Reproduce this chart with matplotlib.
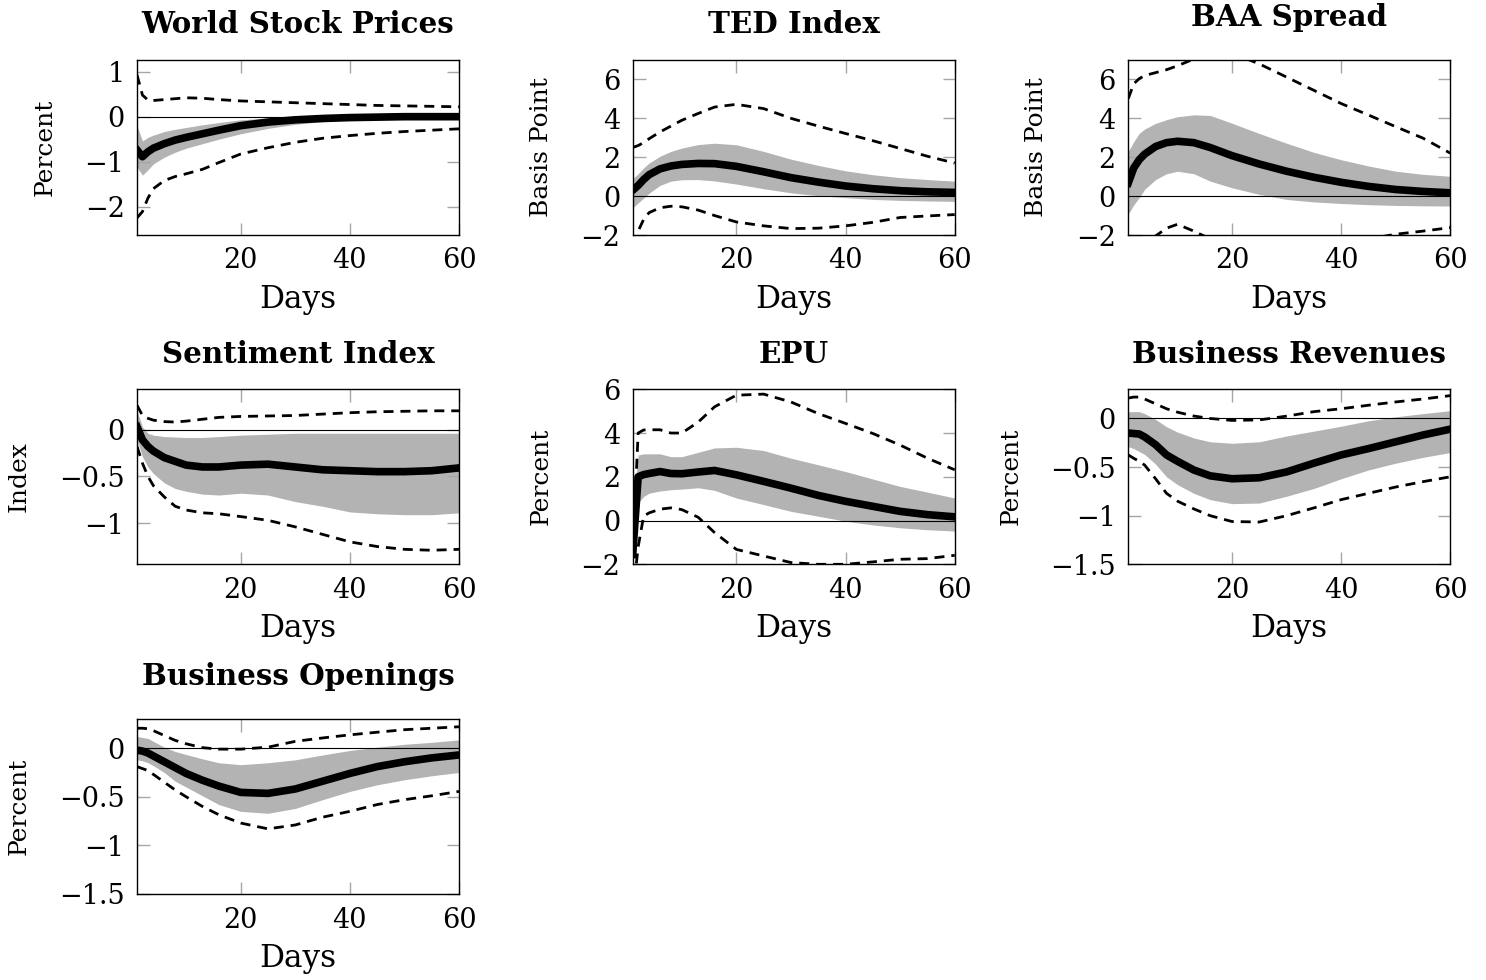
import matplotlib
matplotlib.use('Agg')
import matplotlib.pyplot as plt
import matplotlib.transforms as mtransforms
from matplotlib.ticker import FixedLocator, FixedFormatter

plt.rcParams['font.family'] = ['DejaVu Serif']

# =====================================================================
# Impulse responses (days 1..60)
# =====================================================================
DAYS = [1, 2, 3, 4, 6, 8, 10, 13, 16, 20, 25, 30, 35, 40, 45, 50, 55, 60]

# World Stock Prices (percent)
world_med     = [-0.74, -0.89, -0.78, -0.70, -0.60, -0.52, -0.46, -0.38, -0.30, -0.20, -0.12, -0.07, -0.04, -0.02, -0.01, 0.0, 0.0, 0.0]
world_band_hi = [-0.20, -0.54, -0.46, -0.41, -0.33, -0.28, -0.24, -0.18, -0.13, -0.07, -0.03, -0.01, 0.01, 0.02, 0.03, 0.03, 0.03, 0.03]
world_band_lo = [-1.12, -1.30, -1.18, -1.05, -0.90, -0.79, -0.70, -0.60, -0.50, -0.38, -0.26, -0.17, -0.11, -0.07, -0.05, -0.04, -0.03, -0.03]
world_dash_hi = [0.93, 0.48, 0.37, 0.36, 0.38, 0.40, 0.42, 0.41, 0.38, 0.35, 0.33, 0.31, 0.29, 0.27, 0.25, 0.24, 0.23, 0.22]
world_dash_lo = [-2.25, -2.11, -1.81, -1.60, -1.42, -1.33, -1.27, -1.17, -1.02, -0.83, -0.69, -0.57, -0.48, -0.42, -0.37, -0.33, -0.30, -0.27]

# TED Index (basis points)
ted_med     = [0.30, 0.55, 0.85, 1.10, 1.40, 1.55, 1.63, 1.68, 1.67, 1.53, 1.25, 0.95, 0.72, 0.52, 0.38, 0.28, 0.22, 0.19]
ted_band_hi = [0.90, 1.15, 1.45, 1.70, 2.05, 2.30, 2.47, 2.65, 2.72, 2.64, 2.30, 1.90, 1.58, 1.30, 1.10, 0.95, 0.85, 0.77]
ted_band_lo = [-0.60, -0.35, -0.10, 0.15, 0.55, 0.77, 0.84, 0.85, 0.78, 0.62, 0.38, 0.17, 0.02, -0.08, -0.17, -0.22, -0.25, -0.27]
ted_dash_hi = [2.50, 2.60, 2.75, 2.95, 3.30, 3.60, 3.90, 4.25, 4.58, 4.72, 4.50, 4.00, 3.60, 3.22, 2.85, 2.45, 2.05, 1.70]
ted_dash_lo = [-2.50, -1.80, -1.20, -0.85, -0.60, -0.52, -0.55, -0.72, -1.00, -1.33, -1.53, -1.67, -1.65, -1.53, -1.35, -1.10, -1.02, -0.95]

# BAA Spread (basis points)
baa_med     = [0.68, 1.45, 1.87, 2.16, 2.55, 2.75, 2.82, 2.75, 2.50, 2.08, 1.65, 1.28, 0.97, 0.71, 0.50, 0.34, 0.24, 0.17]
baa_band_hi = [2.30, 2.80, 3.23, 3.45, 3.74, 3.93, 4.08, 4.18, 4.15, 3.75, 3.22, 2.72, 2.25, 1.87, 1.55, 1.28, 1.12, 1.02]
baa_band_lo = [-0.93, -0.45, -0.08, 0.35, 0.85, 1.15, 1.28, 1.15, 0.77, 0.43, 0.09, -0.17, -0.30, -0.38, -0.44, -0.48, -0.50, -0.51]
baa_dash_hi = [5.02, 5.78, 6.04, 6.20, 6.35, 6.50, 6.70, 7.05, 7.30, 7.35, 6.80, 6.12, 5.44, 4.76, 4.17, 3.57, 2.98, 2.21]
baa_dash_lo = [-3.20, -2.80, -2.50, -2.30, -2.05, -1.65, -1.45, -1.80, -2.20, -2.50, -2.75, -2.80, -2.70, -2.50, -2.20, -1.96, -1.80, -1.62]

# Sentiment Index (index)
sent_med     = [0.03, -0.11, -0.18, -0.23, -0.30, -0.34, -0.38, -0.40, -0.40, -0.38, -0.37, -0.40, -0.43, -0.44, -0.45, -0.45, -0.44, -0.41]
sent_band_hi = [0.20, 0.03, -0.04, -0.06, -0.075, -0.08, -0.085, -0.085, -0.075, -0.06, -0.05, -0.04, -0.04, -0.04, -0.04, -0.04, -0.04, -0.04]
sent_band_lo = [-0.11, -0.29, -0.40, -0.47, -0.57, -0.63, -0.66, -0.69, -0.70, -0.68, -0.70, -0.77, -0.82, -0.88, -0.90, -0.91, -0.91, -0.89]
sent_dash_hi = [0.26, 0.15, 0.12, 0.10, 0.085, 0.08, 0.09, 0.11, 0.13, 0.14, 0.145, 0.15, 0.165, 0.18, 0.19, 0.195, 0.20, 0.20]
sent_dash_lo = [-0.18, -0.36, -0.50, -0.60, -0.72, -0.82, -0.86, -0.89, -0.90, -0.93, -0.97, -1.04, -1.12, -1.20, -1.25, -1.28, -1.29, -1.28]

# EPU (percent)
epu_med     = [-1.55, 2.00, 2.10, 2.15, 2.24, 2.15, 2.14, 2.22, 2.29, 2.09, 1.79, 1.48, 1.15, 0.88, 0.65, 0.42, 0.27, 0.17]
epu_band_hi = [0.30, 3.00, 3.05, 3.05, 3.05, 2.92, 2.92, 3.12, 3.32, 3.35, 3.20, 2.85, 2.55, 2.24, 1.90, 1.56, 1.30, 1.03]
epu_band_lo = [-2.20, 0.80, 1.10, 1.25, 1.35, 1.41, 1.44, 1.50, 1.38, 1.03, 0.73, 0.42, 0.20, -0.03, -0.20, -0.33, -0.42, -0.48]
epu_dash_hi = [-1.50, 4.00, 4.14, 4.15, 4.15, 4.00, 4.00, 4.50, 5.20, 5.73, 5.78, 5.42, 4.89, 4.44, 3.98, 3.45, 2.85, 2.32]
epu_dash_lo = [-3.50, -1.20, 0.20, 0.35, 0.52, 0.58, 0.50, 0.15, -0.55, -1.32, -1.62, -1.92, -2.00, -2.00, -1.89, -1.77, -1.74, -1.59]

# Business Revenues (percent)
rev_med     = [-0.15, -0.155, -0.16, -0.19, -0.27, -0.375, -0.44, -0.53, -0.59, -0.62, -0.61, -0.55, -0.46, -0.375, -0.31, -0.24, -0.17, -0.11]
rev_band_hi = [0.07, 0.07, 0.07, 0.05, -0.01, -0.085, -0.14, -0.20, -0.24, -0.255, -0.24, -0.18, -0.13, -0.08, -0.024, 0.017, 0.05, 0.08]
rev_band_lo = [-0.29, -0.31, -0.34, -0.37, -0.47, -0.60, -0.68, -0.77, -0.835, -0.876, -0.87, -0.80, -0.72, -0.62, -0.53, -0.46, -0.40, -0.35]
rev_dash_hi = [0.21, 0.22, 0.22, 0.20, 0.15, 0.10, 0.065, 0.025, 0.0, -0.02, -0.015, 0.024, 0.07, 0.10, 0.136, 0.17, 0.20, 0.235]
rev_dash_lo = [-0.375, -0.41, -0.44, -0.48, -0.62, -0.77, -0.85, -0.93, -1.00, -1.06, -1.065, -1.00, -0.92, -0.835, -0.77, -0.705, -0.65, -0.60]

# Business Openings (percent)
open_med     = [-0.02, -0.03, -0.05, -0.08, -0.14, -0.20, -0.26, -0.33, -0.39, -0.455, -0.465, -0.42, -0.34, -0.26, -0.19, -0.14, -0.10, -0.07]
open_band_hi = [0.12, 0.11, 0.10, 0.07, 0.01, -0.034, -0.065, -0.11, -0.15, -0.17, -0.15, -0.12, -0.07, -0.024, 0.01, 0.04, 0.06, 0.085]
open_band_lo = [-0.12, -0.13, -0.15, -0.18, -0.25, -0.34, -0.40, -0.49, -0.58, -0.65, -0.67, -0.62, -0.53, -0.445, -0.377, -0.325, -0.284, -0.25]
open_dash_hi = [0.205, 0.205, 0.20, 0.18, 0.13, 0.08, 0.045, 0.005, -0.01, -0.01, 0.01, 0.07, 0.105, 0.137, 0.164, 0.19, 0.205, 0.22]
open_dash_lo = [-0.19, -0.21, -0.23, -0.27, -0.35, -0.43, -0.50, -0.60, -0.685, -0.77, -0.83, -0.79, -0.71, -0.65, -0.58, -0.53, -0.49, -0.445]

X_TICKS = [20, 40, 60]

# title, ylabel, ylim, yticks, series, (col, row)
panels = [
    ("World Stock Prices", "Percent", (-2.63, 1.26), [-2, -1, 0, 1],
     (world_med, world_band_lo, world_band_hi, world_dash_lo, world_dash_hi), (0, 0)),
    ("TED Index", "Basis Point", (-2, 7), [-2, 0, 2, 4, 6],
     (ted_med, ted_band_lo, ted_band_hi, ted_dash_lo, ted_dash_hi), (1, 0)),
    ("BAA Spread", "Basis Point", (-2, 7), [-2, 0, 2, 4, 6],
     (baa_med, baa_band_lo, baa_band_hi, baa_dash_lo, baa_dash_hi), (2, 0)),
    ("Sentiment Index", "Index", (-1.44, 0.43), [-1, -0.5, 0],
     (sent_med, sent_band_lo, sent_band_hi, sent_dash_lo, sent_dash_hi), (0, 1)),
    ("EPU", "Percent", (-2, 6), [-2, 0, 2, 4, 6],
     (epu_med, epu_band_lo, epu_band_hi, epu_dash_lo, epu_dash_hi), (1, 1)),
    ("Business Revenues", "Percent", (-1.5, 0.3), [-1.5, -1, -0.5, 0],
     (rev_med, rev_band_lo, rev_band_hi, rev_dash_lo, rev_dash_hi), (2, 1)),
    ("Business Openings", "Percent", (-1.5, 0.3), [-1.5, -1, -0.5, 0],
     (open_med, open_band_lo, open_band_hi, open_dash_lo, open_dash_hi), (0, 2)),
]

# =====================================================================
# Layout (pixel geometry of the 1486x980 canvas)
# =====================================================================
W, H = 1486, 980
fig = plt.figure(figsize=(W / 100, H / 100), dpi=100)

col_left = [137, 632.7, 1128.3]
row_top = [60, 389.3, 719]
ax_w, ax_h = 322, 175

BAND_COLOR = '#b3b3b3'
TICK_COLOR = '#a6a6a6'


def fmt(v):
    s = f"{v:g}"
    return s.replace('-', '\u2212')


for title, ylab, ylim, yticks, series, (c, r) in panels:
    med, blo, bhi, dlo, dhi = series
    ax = fig.add_axes([col_left[c] / W, 1 - (row_top[r] + ax_h) / H, ax_w / W, ax_h / H])

    ax.fill_between(DAYS, blo, bhi, color=BAND_COLOR, lw=0, zorder=1)
    ax.axhline(0, color='black', lw=0.8, zorder=2)
    ax.plot(DAYS, dhi, color='black', lw=2, ls=(0, (3.6, 2.5)), zorder=3)
    ax.plot(DAYS, dlo, color='black', lw=2, ls=(0, (3.6, 2.5)), zorder=3)
    ax.plot(DAYS, med, color='black', lw=5.5, solid_joinstyle='round', zorder=4)

    ax.set_xlim(1, 60)
    ax.set_ylim(*ylim)
    ax.xaxis.set_major_locator(FixedLocator(X_TICKS))
    ax.xaxis.set_major_formatter(FixedFormatter([fmt(v) for v in X_TICKS]))
    ax.yaxis.set_major_locator(FixedLocator(yticks))
    ax.yaxis.set_major_formatter(FixedFormatter([fmt(v) for v in yticks]))
    ax.tick_params(direction='in', length=9, width=1, color=TICK_COLOR,
                   top=True, right=True, labelsize=19.5, pad=9)
    for sp in ax.spines.values():
        sp.set_linewidth(1.0)

    ax.set_ylabel(ylab, fontsize=18, labelpad=20)

    # title baseline sits higher when the title has descenders
    off = 34 if any(ch in title for ch in 'gjpqy') else 26.7
    tr = mtransforms.offset_copy(ax.transAxes, fig=fig, x=0, y=off, units='dots')
    ax.text(0.5, 1.0, title, transform=tr, ha='center', va='baseline',
            fontsize=21.2, fontweight='bold')

    tr2 = mtransforms.offset_copy(ax.transAxes, fig=fig, x=0, y=-73, units='dots')
    ax.text(0.5, 0.0, "Days", transform=tr2, ha='center', va='baseline', fontsize=22.5)

fig.savefig('out.png', dpi=100)
